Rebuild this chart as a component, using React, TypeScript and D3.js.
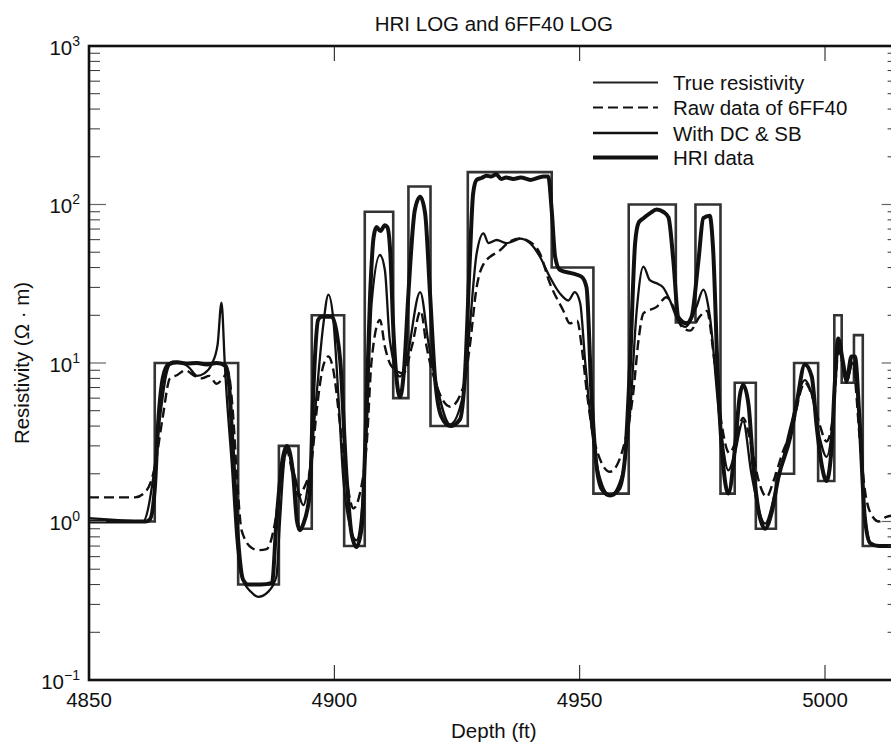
import React from "react";
import * as d3 from "d3";

const titleText = "HRI LOG and 6FF40 LOG";
const xLabel = "Depth (ft)";
const yLabel = "Resistivity (Ω · m)";
const xTicks = [4850, 4900, 4950, 5000];
const yExponents = [-1, 0, 1, 2, 3];
const legendLabels = ["True resistivity", "Raw data of 6FF40", "With DC & SB", "HRI data"];

// True resistivity layers: boundaries (ft) and values (ohm-m)
const layerTops = [4850, 4863.4, 4880.4, 4888.7, 4892.7, 4895.4, 4902.0, 4906.2, 4912.0, 4915.1, 4919.6, 4927.2, 4944.3, 4952.8, 4960.0, 4969.6, 4973.6, 4978.7, 4981.6, 4985.9, 4990.0, 4993.7, 4998.6, 5001.9, 5003.4, 5005.9, 5007.7, 5015];
const layerValues = [1.0, 10, 0.4, 3.0, 0.9, 20, 0.7, 90, 6, 130, 4, 160, 40, 1.5, 100, 18, 100, 1.5, 7.5, 0.9, 2.0, 10, 1.8, 20, 7.5, 15, 0.7];

// HRI data (thick)
const hriData: [number, number][] = [
  [4850, 1.0], [4858, 1.0], [4861.5, 1.0], [4862.4, 1.03], [4863.4, 1.6], [4864.1, 4.2], [4865.1, 8.2], [4866.2, 9.8],
  [4868, 10.1], [4870, 9.9], [4872, 10.0], [4874, 9.8], [4876, 10.0], [4877.8, 9.6], [4878.4, 8.2], [4879.4, 2.56],
  [4880.4, 0.76], [4881.4, 0.43], [4882.5, 0.4], [4885, 0.4], [4887.3, 0.41], [4888.2, 1.0], [4889.3, 2.3], [4890.3, 3.0],
  [4891.6, 2.0], [4892.4, 1.0], [4893.0, 0.88], [4893.6, 0.95], [4895, 1.5], [4895.7, 6.4], [4896.7, 18.7], [4897.4, 19.6],
  [4899.5, 19.6], [4900.5, 15.4], [4901.2, 10.4], [4902.5, 1.9], [4903.5, 0.84], [4904.5, 0.69], [4905.6, 0.93], [4906.2, 2.45],
  [4907.3, 27.4], [4908, 62], [4908.6, 72], [4909.4, 68], [4910.3, 74], [4910.8, 72], [4911.4, 50], [4912, 16.9],
  [4913.4, 6.1], [4914.2, 9], [4915.1, 27.4], [4916.4, 92], [4917.5, 112], [4918.5, 88], [4919.5, 27.4], [4920.5, 8.2],
  [4921.8, 4.6], [4923.6, 4.0], [4925.6, 4.4], [4926.6, 8.2], [4927.6, 44], [4928.3, 118], [4929, 143], [4930, 147],
  [4931, 152], [4932, 150], [4933, 155], [4934, 145], [4935, 148], [4936.5, 145], [4938, 148], [4940, 143],
  [4942.6, 150], [4943.6, 150], [4944.3, 92], [4945, 46.8], [4946, 38.6], [4948.7, 36.6], [4950.4, 35], [4951.4, 30],
  [4952.4, 6.4], [4953.3, 2.45], [4954.5, 1.6], [4956.2, 1.46], [4958, 1.6], [4959.2, 2.45], [4960.3, 10.4], [4961.3, 57],
  [4962, 76.5], [4963, 82], [4964.3, 88], [4965.7, 93], [4967, 90], [4968.1, 83], [4969.1, 44], [4970.1, 19.5],
  [4971.8, 17.8], [4972.8, 19.5], [4974.2, 44], [4975.2, 82], [4976.5, 85], [4977.2, 52], [4978.2, 7.5], [4979.3, 2.2],
  [4980.3, 1.5], [4981.6, 2.8], [4982.6, 6.1], [4983.3, 7.3], [4984.4, 5.5], [4985.4, 2.2], [4986.7, 1.07], [4987.8, 0.9],
  [4989.1, 1.13], [4990.5, 1.9], [4992.9, 3.4], [4994.2, 5.5], [4995.9, 9.8], [4997.3, 8.2], [4998.3, 4.0], [4999.3, 2.3],
  [5000.3, 1.8], [5001.3, 2.8], [5002, 7.45], [5002.7, 14.3], [5003.6, 10.4], [5004.4, 7.8], [5005.4, 11], [5006.1, 11],
  [5007, 4.6], [5008.1, 1.07], [5009.2, 0.73], [5011, 0.7], [5015, 0.7],
];

// With DC & SB (thin solid)
const dcsbData: [number, number][] = [
  [4850, 1.05], [4856, 1.02], [4861, 1.0], [4863.1, 1.9], [4864.5, 4.6], [4865.8, 8.6], [4867, 10.2], [4869, 10.0],
  [4870.5, 9.3], [4872, 8.3], [4873.5, 8.6], [4875, 9.8], [4876.2, 13], [4877, 24], [4877.7, 9.5], [4878, 6.7],
  [4879.1, 2.3], [4880.1, 0.76], [4881.1, 0.45], [4883, 0.36], [4884.5, 0.335], [4886.5, 0.36], [4888.2, 0.45], [4888.9, 0.98],
  [4889.9, 2.56], [4890.5, 2.8], [4892, 1.9], [4893.7, 1.27], [4895, 2.1], [4896.4, 6.4], [4897.7, 16.9], [4898.8, 27],
  [4899.8, 18.7], [4900.8, 6.4], [4901.8, 1.9], [4903.2, 0.93], [4904.5, 0.76], [4905.6, 1.18], [4906.6, 4.0], [4907.6, 24],
  [4909.3, 48], [4910.3, 38.6], [4911.3, 14], [4913.4, 8.2], [4914.7, 10.4], [4917.5, 28], [4919.2, 13.3], [4920.5, 8.2],
  [4923.6, 4.1], [4926.3, 6.4], [4927.6, 16.9], [4929, 49], [4930.4, 65.8], [4931.4, 57], [4933.1, 59.7], [4935, 57],
  [4937.2, 60], [4937.8, 61], [4939.9, 57], [4941.9, 46.8], [4943.9, 35], [4946, 27.4], [4947.7, 24.8], [4949, 28],
  [4950.1, 23.9], [4951.1, 10.4], [4952.4, 4.0], [4954.1, 1.9], [4956.2, 1.46], [4958.5, 1.9], [4960.3, 5.0], [4961.6, 21],
  [4963, 40.6], [4964.3, 33.3], [4965.7, 31.8], [4967, 30], [4968.4, 24.8], [4969.8, 19.2], [4971.5, 16.9], [4973.8, 22.6],
  [4975.2, 29], [4976.5, 20], [4978.6, 4.2], [4980.3, 2.1], [4981.5, 2.6], [4983.3, 4.3], [4985, 2.0], [4987.8, 0.97],
  [4990, 1.6], [4993, 4.0], [4995.9, 7.8], [4997.5, 6], [4999, 3.3], [5000.3, 2.56], [5001.5, 4], [5002.7, 14],
  [5004.4, 7.5], [5005.6, 10], [5007, 4.5], [5008.1, 1.1], [5009.5, 0.72], [5011, 0.7], [5015, 0.7],
];

// Raw data of 6FF40 (dashed)
const rawData: [number, number][] = [
  [4850, 1.42], [4859.4, 1.42], [4861.8, 1.58], [4863.4, 2.2], [4865, 4.5], [4866.5, 8.0], [4868, 8.4], [4869.6, 9.0],
  [4871.5, 8.3], [4873, 8.0], [4874.5, 8.3], [4876, 7.4], [4877.3, 8.0], [4878.3, 8.8], [4879.3, 5], [4880.2, 1.8],
  [4881.1, 0.88], [4883.2, 0.68], [4884.5, 0.66], [4886.2, 0.67], [4887.9, 0.98], [4889.3, 2.0], [4890.3, 2.8], [4891.5, 2.0],
  [4892.7, 1.44], [4893.7, 1.6], [4895.4, 2.45], [4896.4, 5.0], [4897.7, 9.5], [4898.8, 11], [4899.8, 9.0], [4901.2, 4.0],
  [4902.5, 1.84], [4903.9, 1.21], [4905.2, 1.5], [4906.6, 3.1], [4907.6, 10.4], [4909.3, 18.7], [4910.3, 12.7], [4911.7, 9.5],
  [4914.1, 8.6], [4915.8, 12.7], [4917.6, 21.3], [4918.8, 12.7], [4920.9, 7.1], [4923.6, 5.3], [4926.3, 7.1], [4927.6, 12.7],
  [4929, 30], [4930.4, 42], [4933.8, 51.6], [4935.8, 58.5], [4937.8, 61], [4939.9, 58], [4941.9, 49], [4943.9, 32],
  [4946.7, 21.3], [4948, 17.8], [4949.5, 18.5], [4950.4, 12.7], [4951.5, 6.4], [4953.1, 3.1], [4956.2, 2.06], [4959.1, 3.1],
  [4960.9, 6.4], [4962, 14], [4963, 20.6], [4965.7, 22.6], [4967.7, 26], [4969.1, 22.6], [4970.8, 16.9], [4972.5, 16],
  [4974.5, 19.7], [4975.9, 21.3], [4977.5, 10], [4979, 4], [4980.5, 2.7], [4981.8, 3.2], [4983.3, 4.5], [4985, 3],
  [4986.5, 1.8], [4988.1, 1.43], [4989.5, 1.8], [4991.5, 2.8], [4993, 3.6], [4995.9, 7.5], [4997.5, 6], [4999, 4],
  [5000.3, 3.2], [5001.6, 4.5], [5002.8, 12], [5004.4, 7.8], [5005.6, 10], [5007.2, 3], [5008.1, 1.6], [5009.5, 1.1],
  [5011, 1.0], [5012.5, 1.07], [5015, 1.1],
];

const W = 891;
const H = 743;
const M = { left: 89, right: 898.6, top: 46, bottom: 680 };
const FONT = "'Liberation Sans', Arial, Helvetica, sans-serif";
const FS = 20.5;

export default function App() {
  const x = d3.scaleLinear().domain([4850, 5015]).range([M.left, M.right]);
  const y = d3.scaleLog().domain([0.1, 1000]).range([M.bottom, M.top]);

  const smooth = d3
    .line<[number, number]>()
    .x((d) => x(d[0]))
    .y((d) => y(d[1]))
    .curve(d3.curveMonotoneX);

  const stepPts: [number, number][] = layerValues.map((v, i) => [layerTops[i], v] as [number, number]);
  stepPts.push([layerTops[layerTops.length - 1], layerValues[layerValues.length - 1]]);
  const stepLine = d3
    .line<[number, number]>()
    .x((d) => x(d[0]))
    .y((d) => y(d[1]))
    .curve(d3.curveStepAfter);

  const minorTicks: number[] = [];
  for (let e = -1; e < 3; e++) {
    for (let m = 2; m <= 9; m++) minorTicks.push(m * Math.pow(10, e));
  }

  const legendX1 = 593;
  const legendX2 = 658;
  const legendRowsY = [82.5, 107.5, 133, 157.5];
  const legendStyles = [
    { w: 2, dash: "", color: "#222" },
    { w: 2.2, dash: "10,5", color: "#111" },
    { w: 2.4, dash: "", color: "#111" },
    { w: 4, dash: "", color: "#111" },
  ];

  return (
    <svg
      width={W}
      height={H}
      style={{ position: "absolute", left: 0, top: 0, background: "#fff" }}
      fontFamily={FONT}
    >
      <defs>
        <clipPath id="plotClip">
          <rect x={M.left} y={M.top} width={M.right - M.left} height={M.bottom - M.top} />
        </clipPath>
      </defs>
      <rect x={0} y={0} width={W} height={H} fill="#fff" />

      {/* title */}
      <text x={(M.left + M.right) / 2} y={31} textAnchor="middle" fontSize={FS} fill="#111">
        {titleText}
      </text>

      {/* curves */}
      <g clipPath="url(#plotClip)" fill="none">
        <path d={stepLine(stepPts) || ""} stroke="#333" strokeWidth={2.6} strokeLinejoin="miter" />
        <path d={smooth(rawData) || ""} stroke="#111" strokeWidth={2.4} strokeDasharray="10,5" />
        <path d={smooth(dcsbData) || ""} stroke="#111" strokeWidth={2.3} />
        <path d={smooth(hriData) || ""} stroke="#111" strokeWidth={4} />
      </g>

      {/* y ticks (left and right, inward) */}
      {minorTicks.map((t, i) => (
        <g key={"mn" + i} stroke="#333" strokeWidth={1}>
          <line x1={M.left} x2={M.left + 11} y1={y(t)} y2={y(t)} />
          <line x1={M.right} x2={M.right - 11} y1={y(t)} y2={y(t)} />
        </g>
      ))}
      {yExponents.map((e) => (
        <g key={"mj" + e} stroke="#666" strokeWidth={1.2}>
          <line x1={M.left} x2={M.left + 17} y1={y(Math.pow(10, e))} y2={y(Math.pow(10, e))} />
          <line x1={M.right} x2={M.right - 17} y1={y(Math.pow(10, e))} y2={y(Math.pow(10, e))} />
        </g>
      ))}
      {/* x ticks */}
      {xTicks.slice(1).map((t) => (
        <g key={"xt" + t} stroke="#111" strokeWidth={1}>
          <line x1={x(t)} x2={x(t)} y1={M.bottom} y2={M.bottom - 15} />
          <line x1={x(t)} x2={x(t)} y1={M.top} y2={M.top + 15} />
        </g>
      ))}

      {/* frame */}
      <rect
        x={M.left}
        y={M.top}
        width={M.right - M.left}
        height={M.bottom - M.top}
        fill="none"
        stroke="#111"
        strokeWidth={2.6}
      />

      {/* x tick labels */}
      {xTicks.map((t) => (
        <text key={"xl" + t} x={x(t)} y={707} textAnchor="middle" fontSize={FS} fill="#111">
          {t}
        </text>
      ))}
      {/* y tick labels */}
      {yExponents.map((e) => {
        const sup = e < 0 ? "\u2212" + Math.abs(e) : String(e);
        return (
          <text key={"yl" + e} x={80} y={y(Math.pow(10, e)) + 8.5} textAnchor="end" fontSize={FS} fill="#111">
            10
            <tspan fontSize={14} dy={-9}>
              {sup}
            </tspan>
          </text>
        );
      })}

      {/* axis labels */}
      <text x={(M.left + M.right) / 2} y={738} textAnchor="middle" fontSize={FS} fill="#111">
        {xLabel}
      </text>
      <text
        transform={`translate(29, ${(M.top + M.bottom) / 2}) rotate(-90)`}
        textAnchor="middle"
        fontSize={FS}
        fill="#111"
      >
        {yLabel}
      </text>

      {/* legend */}
      {legendLabels.map((lab, i) => (
        <g key={"lg" + i}>
          <line
            x1={legendX1}
            x2={legendX2}
            y1={legendRowsY[i]}
            y2={legendRowsY[i]}
            stroke={legendStyles[i].color}
            strokeWidth={legendStyles[i].w}
            strokeDasharray={legendStyles[i].dash}
          />
          <text x={673} y={legendRowsY[i] + 7.5} fontSize={FS} fill="#111">
            {lab}
          </text>
        </g>
      ))}
    </svg>
  );
}
